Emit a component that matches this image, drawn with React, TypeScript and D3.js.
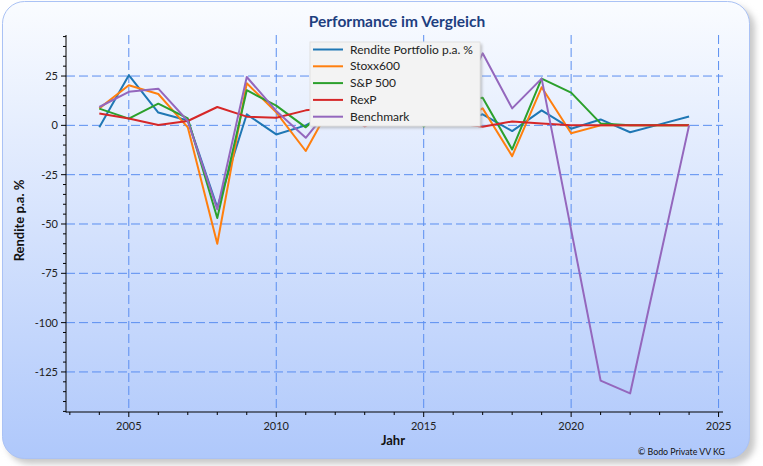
import * as d3 from "d3";

const W = 763;
const H = 466;

const years = [
  2004, 2005, 2006, 2007, 2008, 2009, 2010, 2011, 2012, 2013, 2014, 2015,
  2016, 2017, 2018, 2019, 2020, 2021, 2022, 2023, 2024,
];

const portfolio = [-1, 25.4, 6.5, 2.5, -41.6, 5.6, -4.6, 0, 8, 10, 4, 3, 0.5, 5.6, -2.9, 7.6, -1.7, 3, -3.5, 0.5, 4.5];
const stoxx600 = [8.6, 20.3, 15.9, -1, -60, 21.3, 6.6, -13, 14, 17, 4, 7, 1, 8.6, -15.6, 19.3, -4, 0, 0, 0, 0];
const sp500 = [8.5, 3.4, 11, 3.5, -47, 17.8, 10, -1, 12, 26, 25, -0.6, 12, 14, -12.2, 23.7, 16.6, 1, 0, 0, 0];
const rexp = [6, 3.5, 0.2, 2.2, 9.3, 4.4, 3.9, 7.6, 9, -0.5, 7, 0.5, 1.5, -0.7, 2, 1, 0, 0, 0, 0, 0];
const benchmark = [9.3, 17, 18.6, 2.2, -42.6, 24.5, 7.3, -6.3, 12, 18, 8, 6, 6, 36.5, 8.6, 23.7, -53, -129.4, -135.9, -68, 0];

const seriesNames = ["Rendite Portfolio p.a. %", "Stoxx600", "S&P 500", "RexP", "Benchmark"];
const seriesValues = [portfolio, stoxx600, sp500, rexp, benchmark];
const seriesColors = ["#1f77b4", "#ff7f0e", "#2ca02c", "#d62728", "#9467bd"];

const yMajor = [25, 0, -25, -50, -75, -100, -125];
const xMajor = [2005, 2010, 2015, 2020, 2025];

const FONT = "Lato, 'Open Sans', sans-serif";

export default function App() {
  const left = 66;
  const right = 723;
  const top = 35;
  const bottom = 412;

  const x = d3.scaleLinear().domain([2002.87, 2025.15]).range([left, right]);
  const y = d3.scaleLinear().domain([-145.3, 45.8]).range([bottom, top]);

  const line = d3
    .line<number>()
    .x((_, i) => x(years[i]))
    .y((d) => y(d));

  const yMinor = d3.range(-145, 46, 5);
  const xMinor = d3.range(2003, 2026, 1);

  const legendX = 310;
  const legendY = 42;
  const legendW = 170;
  const legendH = 84;

  return (
    <svg
      width={W}
      height={H}
      style={{ position: "absolute", left: 0, top: 0, fontFamily: FONT }}
    >
      <defs>
        <linearGradient id="card-bg" x1="0" y1="0" x2="0" y2="1">
          <stop offset="0%" stopColor="#fafcff" />
          <stop offset="100%" stopColor="#afc8fb" />
        </linearGradient>
        <filter id="soft" x="-10%" y="-10%" width="120%" height="120%">
          <feGaussianBlur stdDeviation="3" />
        </filter>
        <filter id="legend-shadow" x="-10%" y="-10%" width="130%" height="130%">
          <feGaussianBlur stdDeviation="1.5" />
        </filter>
      </defs>

      {/* card */}
      <rect x={7} y={6} width={748} height={458} rx={22} fill="#c8c8c8" filter="url(#soft)" />
      <rect
        x={2.5}
        y={1.5}
        width={747}
        height={457}
        rx={22}
        fill="url(#card-bg)"
        stroke="#aac2f5"
        strokeWidth={1}
      />

      <text
        x={397}
        y={27}
        textAnchor="middle"
        fontSize={15.5}
        fontWeight="bold"
        fill="#1e3f80"
      >
        Performance im Vergleich
      </text>

      {/* grid */}
      <g stroke="#5a8ef0" strokeWidth={1} strokeDasharray="9,4">
        {xMajor.map((v) => (
          <line key={"gx" + v} x1={x(v)} x2={x(v)} y1={top} y2={bottom} />
        ))}
        {yMajor.map((v) => (
          <line key={"gy" + v} x1={left} x2={right} y1={y(v)} y2={y(v)} />
        ))}
      </g>

      {/* series */}
      {seriesValues.map((vals, i) => (
        <path
          key={seriesNames[i]}
          d={line(vals) ?? ""}
          fill="none"
          stroke={seriesColors[i]}
          strokeWidth={2}
          strokeLinejoin="round"
        />
      ))}

      {/* axes */}
      <g stroke="#000" strokeWidth={1}>
        <line x1={left} x2={left} y1={top} y2={bottom + 0.5} />
        <line x1={left} x2={right} y1={bottom} y2={bottom} />
        {yMinor.map((v) => (
          <line key={"ym" + v} x1={left - (v % 25 === 0 ? 5 : 3)} x2={left} y1={y(v)} y2={y(v)} />
        ))}
        {xMinor.map((v) => (
          <line key={"xm" + v} x1={x(v)} x2={x(v)} y1={bottom} y2={bottom + (v % 5 === 0 ? 5 : 3)} />
        ))}
      </g>
      <g fontSize={11} fill="#222">
        {yMajor.map((v) => (
          <text key={"yl" + v} x={left - 8} y={y(v) + 4} textAnchor="end">
            {v}
          </text>
        ))}
        {xMajor.map((v) => (
          <text key={"xl" + v} x={x(v)} y={bottom + 18} textAnchor="middle">
            {v}
          </text>
        ))}
      </g>

      <text
        transform={`translate(24,${(top + bottom) / 2 - 3}) rotate(-90)`}
        textAnchor="middle"
        fontSize={13}
        fontWeight="bold"
        fill="#111"
      >
        Rendite p.a. %
      </text>
      <text x={393} y={445} textAnchor="middle" fontSize={13} fontWeight="bold" fill="#111">
        Jahr
      </text>
      <text x={725} y={455} textAnchor="end" fontSize={8.8} fill="#111">
        © Bodo Private VV KG
      </text>

      {/* legend */}
      <rect
        x={legendX + 2}
        y={legendY + 2}
        width={legendW}
        height={legendH}
        fill="#9a9a9a"
        opacity={0.6}
        filter="url(#legend-shadow)"
      />
      <rect x={legendX} y={legendY} width={legendW} height={legendH} fill="#f3f3f3" stroke="#e2e2e2" />
      {seriesNames.map((name, i) => (
        <g key={"lg" + name} transform={`translate(${legendX}, ${legendY + 7.5 + i * 16.8})`}>
          <line x1={3} x2={33} y1={0} y2={0} stroke={seriesColors[i]} strokeWidth={2} />
          <text x={40} y={4} fontSize={12} fill="#222">
            {name}
          </text>
        </g>
      ))}
    </svg>
  );
}
